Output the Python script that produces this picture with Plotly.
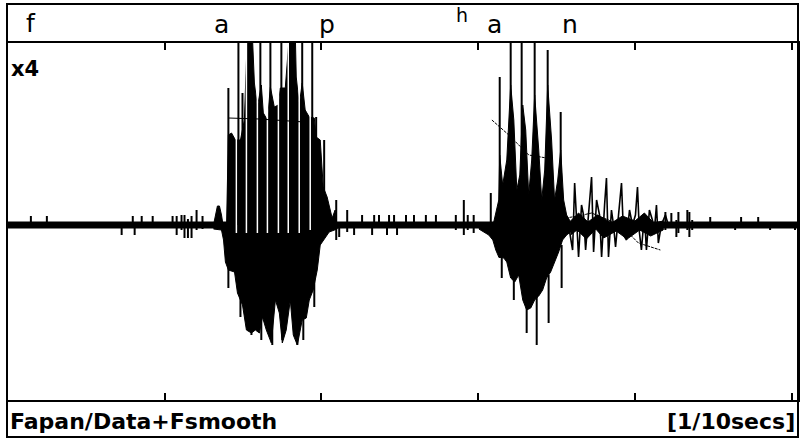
import plotly.graph_objects as go

# ---------------- data (time in ms, amplitude in display units) ----------------
# quiet baseline
base_t = [0, 504]
base_amp = [0, 0]

# vowel 1 ("a" of fapan): body envelope
v1_up_t = [131.1, 132.4, 133.6, 134.9, 136.2, 137.5, 139.4, 140.6, 142.6, 145.1, 148.3, 150.8,
           152.7, 155.9, 157.2, 159.1, 161.6, 162.9, 165.5, 167.4, 169.9, 172.5, 173.7, 176.9,
           179.5, 183.3, 183.9, 185.8, 187.7, 189.6, 192.2, 195.4, 196.6, 199.2, 201.1, 203.6,
           206.8, 208.7, 210.0]
v1_up_amp = [0, 10, 19, 19, 10, -3, -3, 90, 92, 85, 85, 105,
             190, 190, 142, 118, 140, 112, 105, 138, 118, 120, 137, 137,
             190, 190, 148, 120, 142, 115, 108, 107, 88, 85, 38, 28,
             7, 15, 0]
v1_lo_t = [131.1, 136.2, 137.5, 138.7, 140.6, 144.5, 146.4, 149.6, 152.1, 155.3, 157.8, 160.4,
           162.3, 164.8, 168.0, 170.6, 173.1, 175.0, 177.5, 180.1, 182.0, 184.6, 187.7, 190.3,
           192.2, 194.7, 197.3, 199.2, 201.7, 204.9, 210.0]
v1_lo_amp = [-4, -5, -15, -37, -45, -47, -68, -80, -105, -108, -105, -108,
             -92, -105, -118, -75, -88, -118, -105, -75, -110, -120, -95, -93,
             -75, -65, -45, -20, -15, -7, -4]

# vowel 2 ("a n" of han): body envelope
v2_up_t = [300.4, 306.7, 309.3, 311.8, 313.1, 313.7, 315.6, 318.2, 320.7, 322.7, 324.6, 326.5,
           328.4, 330.3, 332.2, 334.1, 336.0, 338.6, 340.5, 342.4, 344.3, 346.8, 348.7, 350.7,
           352.6, 354.5, 356.4, 358.9, 361.5]
v2_up_amp = [-1, -3, -1, 15, 25, 70, 40, 65, 140, 105, 35, 50,
             120, 95, 30, 65, 130, 75, 25, 55, 140, 85, 25, 45,
             75, 25, 10, 3, 0]
v2_lo_t = [300.4, 306.7, 309.3, 311.2, 313.1, 316.3, 318.2, 320.7, 323.3, 325.8, 328.4, 330.9,
           333.5, 336.0, 338.6, 341.1, 343.6, 346.2, 348.7, 351.3, 353.8, 356.4, 358.9, 361.5]
v2_lo_amp = [-4, -10, -15, -25, -32, -33, -37, -53, -57, -50, -75, -85,
             -83, -75, -71, -65, -53, -47, -37, -27, -15, -10, -7, -5]

# decaying tail of the nasal: band + oscillation
tail_up_t = [358.9, 364.0, 370.0, 376.0, 385.0, 392.0, 400.0, 406.0, 412.0, 418.0]
tail_up_amp = [4, 12, 3, 10, 2, 9, 4, 12, 2, 4]
tail_lo_t = [358.9, 363.0, 369.0, 375.0, 380.0, 388.0, 395.0, 403.0, 410.0, 418.0]
tail_lo_amp = [-10, -5, -14, -4, -13, -6, -14, -5, -11, -5]

tail_t = [357.6, 360.2, 361.5, 362.7, 364.0, 365.9, 367.2, 368.5, 370.4, 372.3, 373.6, 375.5,
          377.4, 378.7, 380.6, 381.8, 383.1, 385.0, 386.3, 387.6, 389.5, 391.4, 392.7, 394.6,
          396.5, 398.4, 400.3, 401.6, 402.8, 404.1, 406.0, 407.3, 409.2, 411.1, 412.4, 413.7,
          414.9, 416.8, 419.4, 421.3]
tail_amp = [0, -25, 42, 10, -32, 20, 10, -25, 15, 48, -27, 25,
            10, -32, 20, 47, -32, 15, 0, -22, 10, 42, -10, -15,
            15, 0, 10, 38, -7, -25, 10, -25, 15, 5, -5, 20,
            -18, 0, 10, 0]

# individual pulses (vertical excursions): time, top, bottom
spike_t = [140.6, 147.0, 148.3, 149.6, 154.0, 155.3, 161.0, 161.6, 167.4, 168.6, 174.4, 175.0,
           181.4, 184.6, 187.7, 188.4, 194.1, 195.4, 196.6, 201.7, 209.4, 216.4,
           290.8, 308.0, 313.7, 315.0, 320.7, 322.7, 327.7, 330.9, 336.0, 337.3, 344.3, 344.9,
           352.6, 353.2]
spike_top = [137, 190, -20, 132, 190, -20, 190, -20, 190, -20, 190, -20,
             190, -20, 190, -20, 190, -20, 108, 85, 25, 15,
             25, 32, 148, -30, 190, -50, 190, -80, 190, -70, 175, -50,
             113, -20]
spike_bot = [-63, 0, -92, 0, 0, -110, 0, -115, 0, -120, 0, -115,
             0, -120, 0, -115, 0, -82, 0, 0, -15, -7,
             -10, -5, -33, -53, 0, -75, 0, -108, 0, -120, 0, -98,
             0, -63]

# gaps between pulses inside vowel 1
gap_t = [145.7, 152.1, 159.1, 165.5, 172.5, 178.8, 185.8, 192.8]
gap_top = [190, 190, 190, 190, 190, 190, 190, 190]
gap_bot = [-8, -8, -8, -8, -8, -8, -8, -5]

# small noise ticks in the silent parts
noise_t = [14.6, 24.8, 72.5, 79.6, 80.8, 85.3, 92.3, 105.0, 107.6, 110.7, 112.6, 114.8, 117.1,
           120.3, 124.1,
           211.3, 220.8, 225.9, 232.3, 233.6, 236.7, 241.8, 243.1, 246.3, 248.2, 253.9, 259.0,
           266.6, 273.0, 285.7, 293.3, 297.1,
           419.4, 423.2, 426.4, 427.7, 433.4, 434.7, 436.5, 448.0, 463.9, 467.7, 478.6, 486.2,
           502.1]
noise_top = [9, 9, 0, 9, 0, 9, 9, 9, 9, 10, 10, 6, 9,
             15, 9,
             0, 0, 10, 0, 10, 10, 0, 10, 10, 0, 10, 10,
             10, 10, 10, 10, 10,
             13, 12, 5, 13, 15, 13, 5, 8, 0, 8, 8, 0,
             0]
noise_bot = [0, 0, -10, 0, -10, 0, 0, 0, -10, -5, -13, -13, -13,
             -5, -4,
             -12, -10, 0, -10, 0, 0, -10, 0, 0, -10, 0, 0,
             0, 0, -5, -5, -8,
             -5, -3, -12, -8, -5, -12, -5, 0, -5, 0, 0, -5,
             -5]

# smoothed F0 contours
f1_t = [140.6, 160.4, 179.5, 189.0]
f1_amp = [107, 106, 104, 103]
f2_t = [308.7, 319.5, 327.1, 332.2, 343.6, None, 355.7, 364.0, 372.3, 383.1, 393.9, 402.2, 416.2]
f2_amp = [105, 90, 78, 70, 67, None, 7, 9, 12, 5, -5, -18, -25]

tick_ms = [100, 200, 300, 400, 500]
top_labels = ["f", "a", "p", "h", "a", "n"]

# ---------------- figure ----------------
W, H = 802, 439
L, R, T, B = 8, 2, 43, 39
PW, PH = W - L - R, H - T - B


def px(x):
    return (x - L) / PW


def py(y):
    return (H - B - y) / PH


def segs(ts, tops, bots):
    xs, ys = [], []
    for t, a, b in zip(ts, tops, bots):
        xs += [t, t, None]
        ys += [a, b, None]
    return xs, ys


fig = go.Figure()
BLACK = "#000000"

fig.add_trace(go.Scatter(x=base_t, y=base_amp, mode="lines",
                         line=dict(color=BLACK, width=7), hoverinfo="skip"))
nx, ny = segs(noise_t, noise_top, noise_bot)
fig.add_trace(go.Scatter(x=nx, y=ny, mode="lines", line=dict(color=BLACK, width=2),
                         hoverinfo="skip"))
for ut, ua, lt, la in [(v1_up_t, v1_up_amp, v1_lo_t, v1_lo_amp),
                       (v2_up_t, v2_up_amp, v2_lo_t, v2_lo_amp),
                       (tail_up_t, tail_up_amp, tail_lo_t, tail_lo_amp)]:
    fig.add_trace(go.Scatter(x=ut + lt[::-1], y=ua + la[::-1], mode="lines",
                             fill="toself", fillcolor=BLACK,
                             line=dict(color=BLACK, width=1), hoverinfo="skip"))
fig.add_trace(go.Scatter(x=tail_t, y=tail_amp, mode="lines",
                         line=dict(color=BLACK, width=1.6), hoverinfo="skip"))
gx, gy = segs(gap_t, gap_top, gap_bot)
fig.add_trace(go.Scatter(x=gx, y=gy, mode="lines", line=dict(color="white", width=1.5),
                         hoverinfo="skip"))
sx, sy = segs(spike_t, spike_top, spike_bot)
fig.add_trace(go.Scatter(x=sx, y=sy, mode="lines", line=dict(color=BLACK, width=2),
                         hoverinfo="skip"))
fig.add_trace(go.Scatter(x=f1_t, y=f1_amp, mode="lines", line=dict(color=BLACK, width=1),
                         hoverinfo="skip"))
fig.add_trace(go.Scatter(x=f2_t, y=f2_amp, mode="lines", connectgaps=False,
                         line=dict(color=BLACK, width=1, dash="3px,1px"), hoverinfo="skip"))

fig.update_xaxes(range=[0, 504], showgrid=False, zeroline=False, showticklabels=False,
                 tickvals=tick_ms, ticks="inside", ticklen=7, tickwidth=2, tickcolor=BLACK,
                 showline=True, linecolor=BLACK, linewidth=2, mirror="ticks")
fig.update_yaxes(range=[-175, 182], showgrid=False, zeroline=False, showticklabels=False,
                 ticks="", showline=True, linecolor=BLACK, linewidth=2, mirror=True)

# outer frame
fig.add_shape(type="rect", xref="paper", yref="paper", x0=px(7), x1=px(800), y0=py(437),
              y1=py(4), line=dict(color=BLACK, width=2), fillcolor="rgba(0,0,0,0)")

label_x = [31, 222, 328, 463, 496, 571]
label_y = [24, 25, 25, 15, 25, 25]
label_size = [25, 25, 25, 19, 25, 25]
for s, lx, ly, fs in zip(top_labels, label_x, label_y, label_size):
    fig.add_annotation(text=s, x=px(lx), y=py(ly), xref="paper", yref="paper",
                       xanchor="center", yanchor="middle", showarrow=False,
                       font=dict(family="DejaVu Sans", size=fs, color=BLACK))

fig.add_annotation(text="<b>x4</b>", x=px(9), y=py(69), xref="paper", yref="paper",
                   xanchor="left", yanchor="middle", showarrow=False,
                   font=dict(family="DejaVu Sans", size=21, color=BLACK))
fig.add_annotation(text="<b>Fapan/Data+Fsmooth</b>", x=px(8), y=py(421), xref="paper",
                   yref="paper", xanchor="left", yanchor="middle", showarrow=False,
                   font=dict(family="DejaVu Sans", size=22, color=BLACK))
fig.add_annotation(text="<b>[1/10secs]</b>", x=px(799), y=py(421), xref="paper",
                   yref="paper", xanchor="right", yanchor="middle", showarrow=False,
                   font=dict(family="DejaVu Sans", size=22, color=BLACK))

fig.update_layout(width=W, height=H, margin=dict(l=L, r=R, t=T, b=B),
                  paper_bgcolor="white", plot_bgcolor="white", showlegend=False)

fig.write_html("out.html", config={"displayModeBar": False},
               post_script="document.body.style.margin='0';document.body.style.padding='0';")
